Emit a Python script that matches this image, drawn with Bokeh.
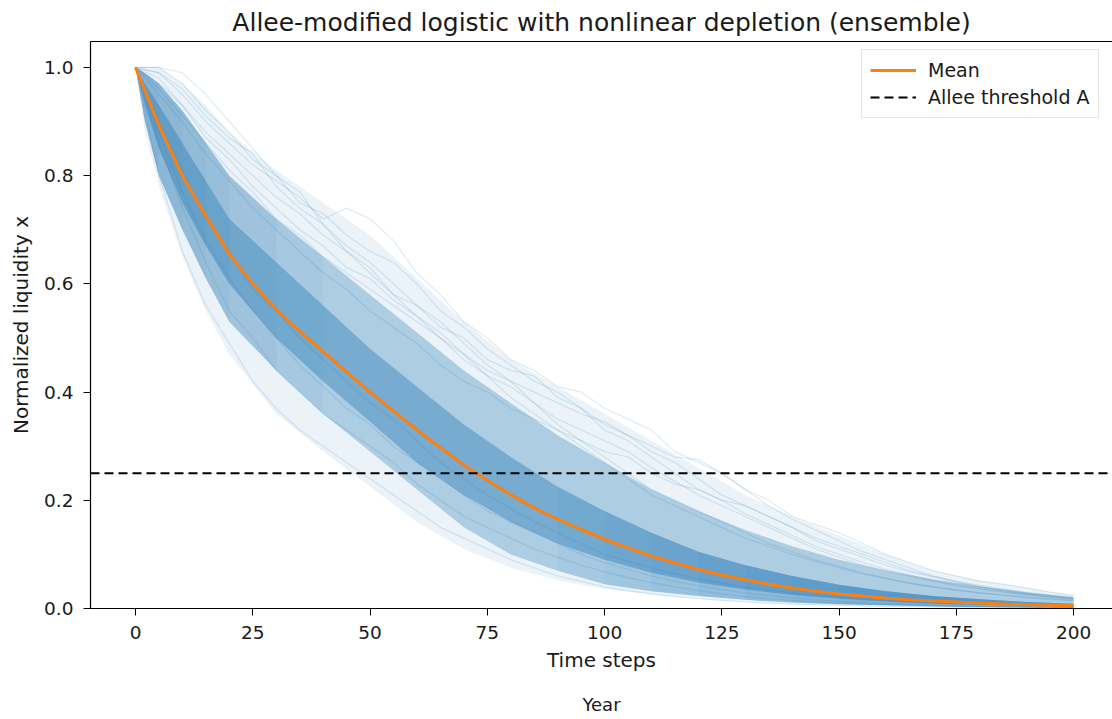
from bokeh.plotting import figure
from bokeh.models import Range1d, FixedTicker, LinearAxis, Legend, LegendItem, NumeralTickFormatter
from bokeh.embed import file_html
from bokeh.resources import INLINE

# ---------------- data ----------------
title = "Allee-modified logistic with nonlinear depletion (ensemble)"
x_label = "Time steps"
y_label = "Normalized liquidity x"
x2_label = "Year"
x_ticks = [0, 25, 50, 75, 100, 125, 150, 175, 200]
y_ticks = [0.0, 0.2, 0.4, 0.6, 0.8, 1.0]
allee_threshold = 0.25

# time grid of the mean and of the sampled trajectories
t5 = list(range(0, 201, 5))
mean_x = [1.0, 0.893, 0.80, 0.725, 0.655, 0.60, 0.553, 0.512, 0.475, 0.437,
          0.40, 0.365, 0.33, 0.297, 0.265, 0.237, 0.21, 0.186, 0.165, 0.146,
          0.128, 0.112, 0.097, 0.084, 0.072, 0.062, 0.053, 0.045, 0.038, 0.032,
          0.027, 0.023, 0.019, 0.016, 0.014, 0.012, 0.010, 0.0085, 0.007, 0.006, 0.005]

# ensemble spread (envelope and percentile bands) on a coarser grid
band_t = [0, 2, 5, 10, 15, 20, 30, 40, 50, 60, 70, 80, 90, 100, 110, 120,
          130, 140, 150, 160, 170, 180, 190, 200]
env_hi = [1.0, 1.0, 1.0, 0.97, 0.93, 0.88, 0.81, 0.75, 0.69, 0.61, 0.53, 0.46,
          0.41, 0.36, 0.31, 0.26, 0.21, 0.17, 0.135, 0.10, 0.07, 0.052, 0.038, 0.025]
q90 = [1.0, 0.99, 0.97, 0.92, 0.86, 0.80, 0.72, 0.65, 0.58, 0.51, 0.44, 0.38,
       0.32, 0.27, 0.22, 0.18, 0.145, 0.115, 0.09, 0.07, 0.054, 0.041, 0.03, 0.021]
q75 = [1.0, 0.97, 0.93, 0.86, 0.79, 0.72, 0.64, 0.56, 0.48, 0.41, 0.34, 0.28,
       0.225, 0.18, 0.14, 0.105, 0.08, 0.06, 0.044, 0.032, 0.023, 0.017, 0.012, 0.009]
q25 = [1.0, 0.93, 0.85, 0.75, 0.67, 0.60, 0.50, 0.42, 0.345, 0.27, 0.21, 0.16,
       0.12, 0.09, 0.066, 0.048, 0.035, 0.025, 0.018, 0.013, 0.009, 0.007, 0.005, 0.004]
q10 = [1.0, 0.90, 0.80, 0.70, 0.61, 0.53, 0.44, 0.36, 0.29, 0.22, 0.15, 0.10,
       0.07, 0.045, 0.032, 0.023, 0.016, 0.011, 0.008, 0.006, 0.004, 0.003, 0.002, 0.0015]
env_lo = [1.0, 0.88, 0.78, 0.65, 0.55, 0.47, 0.36, 0.29, 0.225, 0.16, 0.11, 0.075,
          0.052, 0.036, 0.026, 0.018, 0.012, 0.008, 0.006, 0.004, 0.003, 0.002, 0.0015, 0.001]

# individual trajectories visible at the edges of the ensemble
traj_1 = [1.0, 0.99, 0.95, 0.90, 0.86, 0.82, 0.79, 0.76, 0.72, 0.74, 0.72, 0.68, 0.62, 0.58,
          0.53, 0.50, 0.46, 0.44, 0.41, 0.40, 0.37, 0.35, 0.33, 0.29, 0.27, 0.25, 0.22, 0.20,
          0.17, 0.155, 0.14, 0.12, 0.10, 0.085, 0.07, 0.06, 0.05, 0.045, 0.038, 0.03, 0.024]
traj_2 = [1.0, 1.0, 0.97, 0.92, 0.88, 0.83, 0.80, 0.75, 0.73, 0.69, 0.66, 0.64, 0.60, 0.55,
          0.52, 0.48, 0.45, 0.42, 0.40, 0.37, 0.34, 0.32, 0.29, 0.27, 0.24, 0.21, 0.19, 0.17,
          0.15, 0.13, 0.115, 0.10, 0.085, 0.07, 0.06, 0.05, 0.043, 0.036, 0.03, 0.025, 0.02]
traj_3 = [1.0, 0.96, 0.91, 0.86, 0.81, 0.77, 0.72, 0.69, 0.65, 0.62, 0.59, 0.56, 0.53, 0.50,
          0.47, 0.44, 0.42, 0.40, 0.38, 0.36, 0.345, 0.32, 0.30, 0.28, 0.275, 0.25, 0.22, 0.19,
          0.165, 0.145, 0.125, 0.105, 0.09, 0.075, 0.06, 0.05, 0.04, 0.033, 0.027, 0.022, 0.018]
traj_4 = [1.0, 0.80, 0.66, 0.56, 0.49, 0.42, 0.37, 0.33, 0.30, 0.27, 0.24, 0.21, 0.18, 0.15,
          0.13, 0.11, 0.09, 0.075, 0.06, 0.05, 0.04, 0.033, 0.027, 0.022, 0.018, 0.015, 0.012,
          0.01, 0.008, 0.007, 0.006, 0.005, 0.004, 0.0035, 0.003, 0.0025, 0.002, 0.002, 0.0015,
          0.0015, 0.001]
traj_5 = [1.0, 0.86, 0.74, 0.64, 0.55, 0.50, 0.44, 0.40, 0.36, 0.33, 0.30, 0.27, 0.23, 0.20,
          0.17, 0.15, 0.13, 0.11, 0.095, 0.08, 0.068, 0.057, 0.048, 0.04, 0.033, 0.027, 0.022,
          0.018, 0.015, 0.012, 0.01, 0.008, 0.007, 0.006, 0.005, 0.004, 0.0035, 0.003, 0.0025,
          0.002, 0.002]
traj_6 = [1.0, 0.98, 0.93, 0.87, 0.83, 0.78, 0.74, 0.70, 0.67, 0.63, 0.61, 0.57, 0.54, 0.51,
          0.47, 0.43, 0.41, 0.38, 0.35, 0.33, 0.31, 0.29, 0.26, 0.235, 0.21, 0.19, 0.17, 0.15,
          0.13, 0.11, 0.095, 0.08, 0.07, 0.06, 0.05, 0.042, 0.036, 0.03, 0.025, 0.021, 0.017]
traj_7 = [1.0, 1.0, 0.99, 0.95, 0.90, 0.85, 0.80, 0.77, 0.71, 0.67, 0.64, 0.60, 0.56, 0.53,
          0.49, 0.45, 0.42, 0.38, 0.34, 0.31, 0.28, 0.25, 0.22, 0.20, 0.18, 0.16, 0.14, 0.12,
          0.105, 0.09, 0.078, 0.066, 0.056, 0.047, 0.04, 0.034, 0.029, 0.024, 0.02, 0.017, 0.014]
traj_8 = [1.0, 0.88, 0.77, 0.68, 0.61, 0.55, 0.50, 0.45, 0.41, 0.37, 0.34, 0.30, 0.27, 0.24,
          0.21, 0.18, 0.16, 0.14, 0.12, 0.10, 0.085, 0.072, 0.06, 0.05, 0.042, 0.035, 0.029,
          0.024, 0.02, 0.016, 0.013, 0.011, 0.009, 0.0075, 0.006, 0.005, 0.0042, 0.0035, 0.003,
          0.0025, 0.002]
traj_9 = [1.0, 0.97, 0.93, 0.88, 0.84, 0.80, 0.76, 0.73, 0.69, 0.66, 0.63, 0.58, 0.56, 0.52,
          0.50, 0.46, 0.44, 0.43, 0.39, 0.37, 0.33, 0.31, 0.28, 0.25, 0.22, 0.20, 0.175, 0.155,
          0.135, 0.115, 0.1, 0.085, 0.072, 0.062, 0.052, 0.044, 0.037, 0.031, 0.026, 0.022, 0.018]
traj_10 = [1.0, 0.90, 0.81, 0.72, 0.66, 0.59, 0.55, 0.50, 0.46, 0.42, 0.38, 0.35, 0.31, 0.27,
           0.24, 0.21, 0.185, 0.16, 0.14, 0.12, 0.10, 0.087, 0.075, 0.064, 0.055, 0.047, 0.04,
           0.034, 0.029, 0.025, 0.021, 0.018, 0.015, 0.013, 0.011, 0.009, 0.008, 0.007, 0.006,
           0.005, 0.004]
traj_11 = [1.0, 0.95, 0.90, 0.84, 0.79, 0.74, 0.70, 0.66, 0.62, 0.59, 0.55, 0.52, 0.49, 0.45,
           0.42, 0.40, 0.37, 0.35, 0.33, 0.31, 0.29, 0.28, 0.25, 0.23, 0.22, 0.20, 0.19, 0.17,
           0.15, 0.125, 0.11, 0.095, 0.08, 0.068, 0.058, 0.048, 0.04, 0.034, 0.028, 0.024, 0.02]
traj_12 = [1.0, 0.99, 0.96, 0.91, 0.87, 0.84, 0.78, 0.74, 0.71, 0.66, 0.62, 0.58, 0.54, 0.50,
           0.46, 0.43, 0.39, 0.36, 0.33, 0.30, 0.27, 0.24, 0.21, 0.19, 0.17, 0.15, 0.13, 0.115,
           0.10, 0.087, 0.075, 0.064, 0.055, 0.047, 0.04, 0.034, 0.029, 0.025, 0.021, 0.018, 0.015]
trajectories = [traj_1, traj_2, traj_3, traj_4, traj_5, traj_6,
                traj_7, traj_8, traj_9, traj_10, traj_11, traj_12]

# ---------------- styling ----------------
FONT = "DejaVu Sans"
TEXT = "#1a1a1a"
BLUE = "#1f77b4"
ORANGE = "#ff7f0e"

x_lo, x_hi = -9.6, 208.3
p = figure(width=1112, height=719, output_backend="svg", toolbar_location=None,
           x_range=Range1d(x_lo, x_hi), y_range=Range1d(0, 1.048),
           min_border_left=90, min_border_right=0, min_border_top=41, min_border_bottom=111,
           outline_line_color=None, background_fill_color="white", border_fill_color="white")

p.title.text = title
p.title.text_font = FONT
p.title.text_font_size = "25px"
p.title.text_font_style = "normal"
p.title.text_color = TEXT
p.title.align = "center"
p.title.standoff = 9

p.xgrid.visible = False
p.ygrid.visible = False

# ensemble: envelope and percentile bands
p.varea(x=band_t, y1=env_lo, y2=env_hi, fill_color=BLUE, fill_alpha=0.09)
p.varea(x=band_t, y1=q10, y2=q90, fill_color=BLUE, fill_alpha=0.30)
p.varea(x=band_t, y1=q25, y2=q75, fill_color=BLUE, fill_alpha=0.38)
# the trajectories bunch up at the start and in the tail: darker there
for k in (3, 4, 5, 6, 7, 8):
    p.varea(x=band_t[:k], y1=q10[:k], y2=q90[:k], fill_color=BLUE, fill_alpha=0.05)
for k in range(12, 20):
    p.varea(x=band_t[k:], y1=q10[k:], y2=q75[k:], fill_color=BLUE, fill_alpha=0.045)

for tr in trajectories:
    p.line(t5, tr, line_color=BLUE, line_alpha=0.15, line_width=1.2)

mean_r = p.line(t5, mean_x, line_color=ORANGE, line_width=3)
thr_r = p.line([x_lo, x_hi], [allee_threshold, allee_threshold], line_color="black",
               line_width=2, line_dash="9 5")

legend = Legend(items=[LegendItem(label="Mean", renderers=[mean_r]),
                       LegendItem(label="Allee threshold A", renderers=[thr_r])],
                location=(771, 490))
legend.label_text_font = FONT
legend.label_text_font_size = "19px"
legend.label_text_color = TEXT
legend.glyph_width = 46
legend.glyph_height = 24
legend.label_height = 24
legend.label_standoff = 12
legend.spacing = 3
legend.padding = 8
legend.border_line_color = "#cccccc"
legend.border_line_width = 1
legend.background_fill_alpha = 0.85
p.add_layout(legend, "center")

# axes
for ax in (p.xaxis[0], p.yaxis[0]):
    ax.axis_line_color = "black"
    ax.axis_line_width = 1.2
    ax.major_tick_line_color = "black"
    ax.major_tick_out = 7
    ax.major_tick_in = 0
    ax.minor_tick_line_color = None
    ax.major_label_text_font = FONT
    ax.major_label_text_font_size = "18.5px"
    ax.major_label_text_color = TEXT
    ax.axis_label_text_font = FONT
    ax.axis_label_text_font_size = "20px"
    ax.axis_label_text_font_style = "normal"
    ax.axis_label_text_color = TEXT

p.xaxis[0].ticker = FixedTicker(ticks=x_ticks)
p.xaxis[0].axis_label = x_label
p.xaxis[0].major_label_standoff = 10
p.xaxis[0].axis_label_standoff = 6

p.yaxis[0].ticker = FixedTicker(ticks=y_ticks)
p.yaxis[0].formatter = NumeralTickFormatter(format="0.0")
p.yaxis[0].axis_label = y_label
p.yaxis[0].major_label_standoff = 10
p.yaxis[0].axis_label_standoff = 8

year_axis = LinearAxis(ticker=FixedTicker(ticks=[]), axis_label=x2_label,
                       axis_line_color=None, major_tick_line_color=None,
                       minor_tick_line_color=None, axis_label_standoff=19,
                       axis_label_text_font=FONT, axis_label_text_font_size="18px",
                       axis_label_text_font_style="normal", axis_label_text_color=TEXT)
p.add_layout(year_axis, "below")

top_axis = LinearAxis(ticker=FixedTicker(ticks=[]), axis_line_color="black", axis_line_width=1.2,
                      major_tick_line_color=None, minor_tick_line_color=None,
                      major_label_standoff=0)
p.add_layout(top_axis, "above")

open("out.html", "w").write(file_html(p, INLINE))
